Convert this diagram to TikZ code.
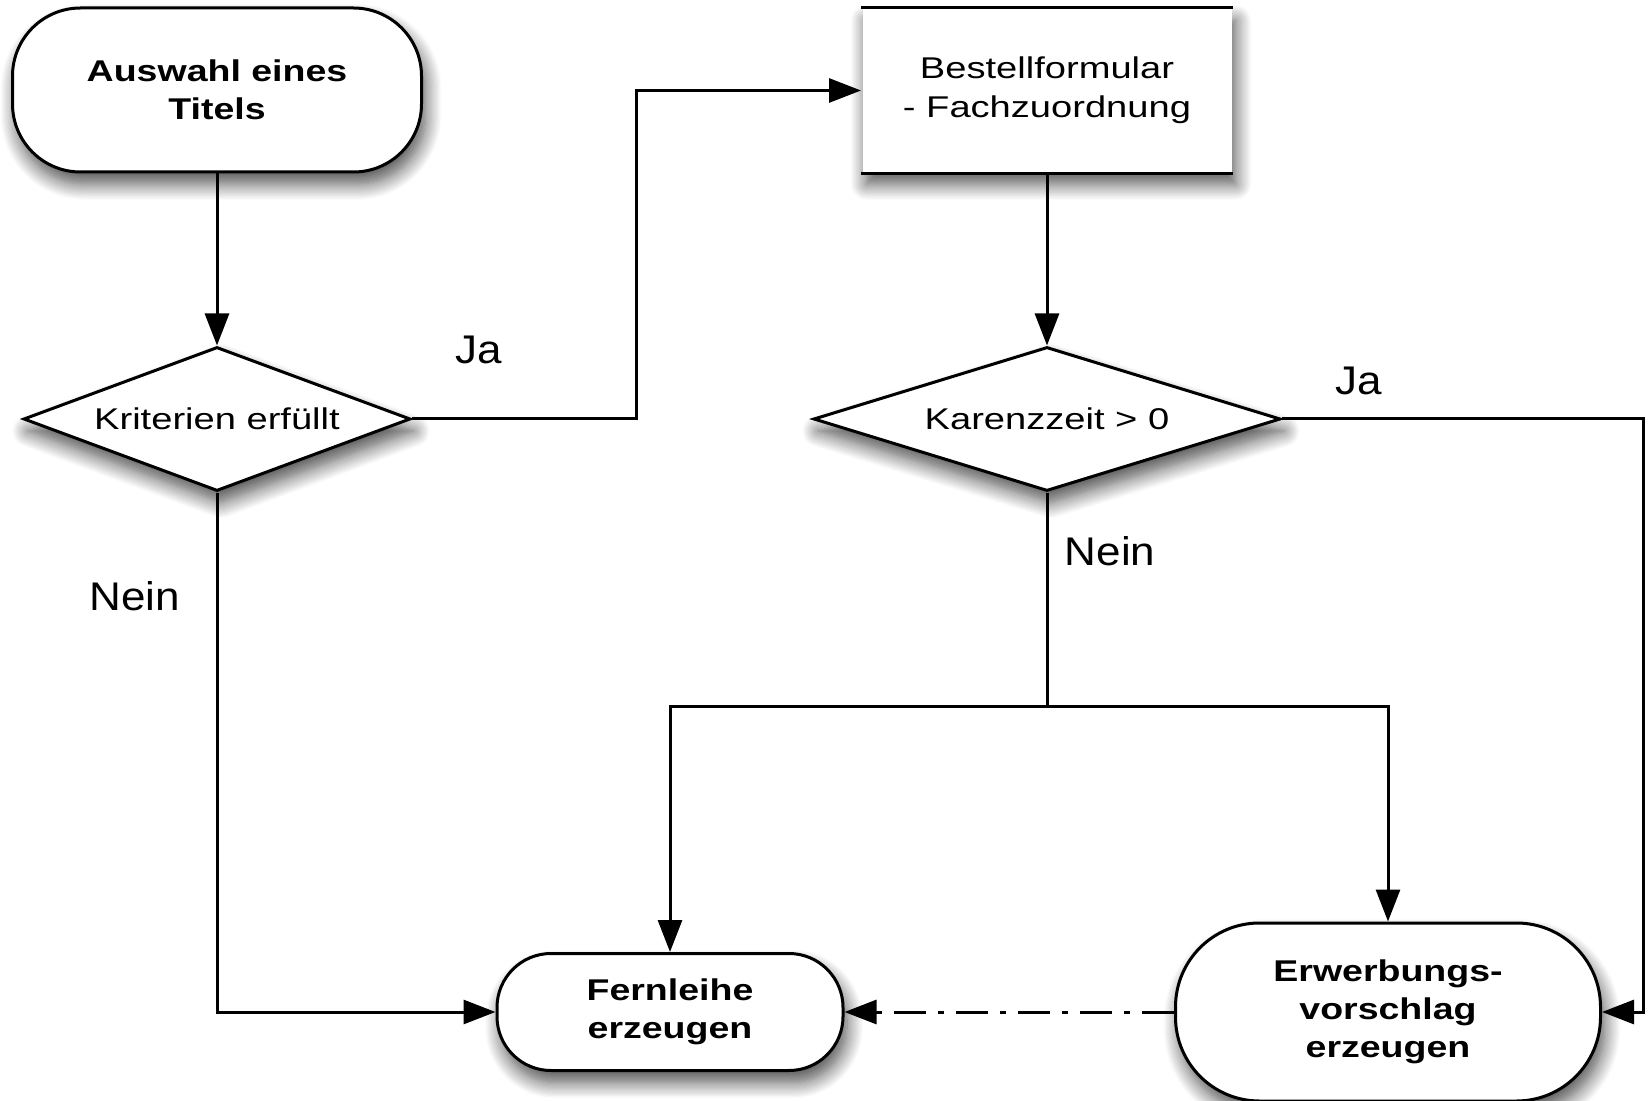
\documentclass[tikz,border=0pt]{standalone}
\usepackage{fontspec}
\setmainfont{Liberation Sans}
\newfontfamily\boxfont[FakeStretch=1.27]{Liberation Sans}
\newfontfamily\termfont[FakeStretch=1.25]{Liberation Sans Bold}
\newfontfamily\labfont[FakeStretch=1.1]{Liberation Sans}
\usetikzlibrary{shapes.geometric,arrows.meta,shadows.blur}
\begin{document}
\begin{tikzpicture}[x=0.5pt,y=-0.5pt,
 line width=1.5pt,
 arr/.style={-{Triangle[length=16pt,width=12pt]}},
 shad/.style={blur shadow={shadow xshift=2pt,shadow yshift=-6pt,shadow blur radius=8pt,shadow blur steps=14,shadow opacity=70}},
 term/.style={draw, fill=white, shad, rounded corners=#1, align=center, font=\termfont\fontsize{15}{19}\selectfont, inner sep=0pt},
 dec/.style={diamond, aspect=2.7, draw, fill=white, shad, inner sep=0pt, font=\boxfont\fontsize{15}{18}\selectfont},
 lab/.style={font=\labfont\fontsize{20}{24}\selectfont}]
\useasboundingbox (0,0) rectangle (1649,1101);

\node[term=34pt, minimum width=204.5pt, minimum height=82pt] (A) at (217,90) {Auswahl eines\\Titels};
\node[fill=white, shad, minimum width=184.5pt, minimum height=81.5pt, align=center, inner sep=0pt, font=\boxfont\fontsize{15}{19.5}\selectfont] (R) at (1047,90.5) {Bestellformular\\- Fachzuordnung};
\draw (R.north west) -- (R.north east);
\draw (R.south west) -- (R.south east);
\node[dec, minimum width=193.5pt, minimum height=72pt] (D1) at (217,419) {Kriterien erfüllt};
\node[dec, minimum width=233.5pt, minimum height=72pt] (D2) at (1047,419) {Karenzzeit > 0};
\node[term=27pt, minimum width=173pt, minimum height=58.5pt] (F) at (670,1012) {Fernleihe\\erzeugen};
\node[term=42pt, minimum width=212.5pt, minimum height=89pt] (E) at (1388,1012) {Erwerbungs-\\vorschlag\\erzeugen};

\coordinate (c1) at (636,419);
\coordinate (c2) at (1643,419);
\coordinate (c3) at (1047,706);

\draw[arr] (A.south) -- (D1.north);
\draw[arr] (D1.east) -- (c1) |- (R.west);
\draw[arr] (R.south) -- (D2.north);
\draw[arr] (D2.east) -- (c2) |- (E.east);
\draw (D2.south) -- (c3);
\draw[arr] (c3) -| (F.north);
\draw[arr] (c3) -| (E.north);
\draw[arr] (D1.south) |- (F.west);
\draw[arr, dash pattern=on 16pt off 6pt on 3pt off 6pt] (E.west) -- (F.east);

\node[lab] (ja1) at (479,350) {Ja};
\node[lab] (nein1) at (135,596) {Nein};
\node[lab] (ja2) at (1359,381) {Ja};
\node[lab] (nein2) at (1110,551) {Nein};
\end{tikzpicture}
\end{document}
